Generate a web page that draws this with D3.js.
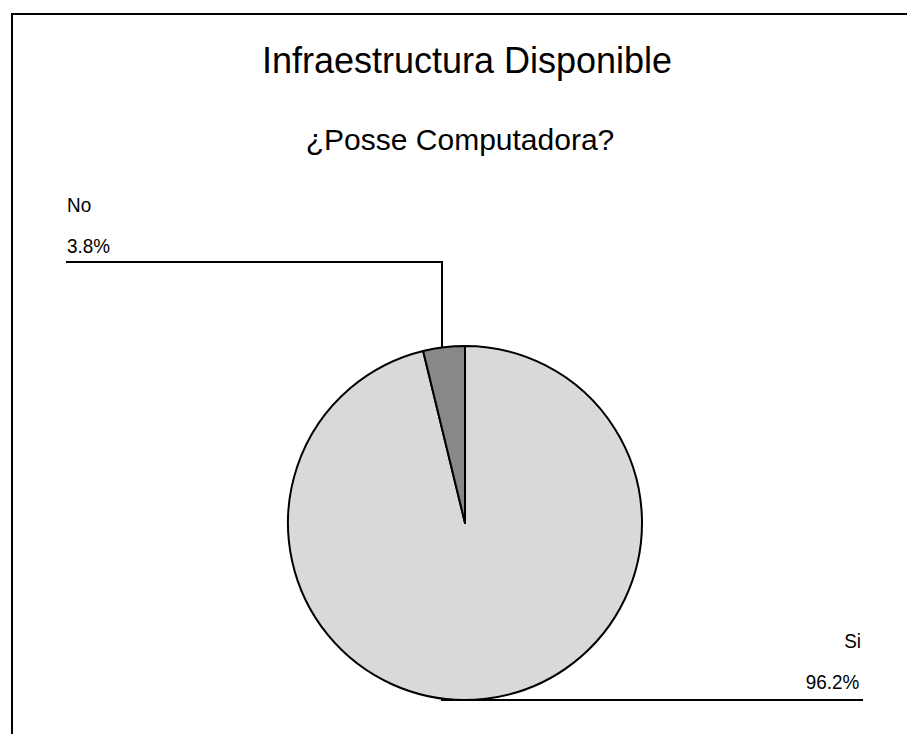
<!DOCTYPE html>
<html><head><meta charset="utf-8">
<script src="https://cdn.jsdelivr.net/npm/d3@7"></script>
<style>body{margin:0;background:#fff}svg{display:block}text{font-family:"Liberation Sans",Arial,sans-serif;fill:#000}</style>
</head><body><svg id="c" width="907" height="734"></svg>
<script>
const title = "Infraestructura Disponible";
const subtitle = "¿Posse Computadora?";
const categories = ["Si", "No"];
const values = [96.2, 3.8];
const percentLabels = ["96.2%", "3.8%"];
const colors = ["#d9d9d9", "#888888"];

const svg = d3.select("#c");
svg.append("path").attr("d", "M12,740 V14 H910").attr("fill", "none").attr("stroke", "#000").attr("stroke-width", 2);

svg.append("text").attr("x", 467).attr("y", 73).attr("text-anchor", "middle").attr("font-size", 36).text(title);
svg.append("text").attr("x", 460).attr("y", 150).attr("text-anchor", "middle").attr("font-size", 30).text(subtitle);

const cx = 465, cy = 523, r = 177;
const data = categories.map((c, i) => ({cat: c, val: values[i], pct: percentLabels[i], color: colors[i]}));
const pie = d3.pie().value(d => d.val).sort(null);
const arcs = pie(data);
const arc = d3.arc().innerRadius(0).outerRadius(r);
const g = svg.append("g").attr("transform", `translate(${cx},${cy})`);
g.selectAll("path").data(arcs).join("path")
  .attr("d", arc).attr("fill", d => d.data.color)
  .attr("stroke", "#000").attr("stroke-width", 2).attr("stroke-linejoin", "round");

// leader lines and labels
const leaders = {
  "No": {pts: [[442, 347], [442, 262], [66, 262]], x: 67, anchor: "start", dyCat: -50, dyPct: -9},
  "Si": {pts: [[441, 700], [863, 700]], x: 861, anchor: "end", dyCat: -52, dyPct: -11}
};
const sx = 0.9;
arcs.forEach(a => {
  const L = leaders[a.data.cat];
  svg.append("path").attr("d", d3.line()(L.pts)).attr("fill", "none").attr("stroke", "#000").attr("stroke-width", 2);
  const baseY = L.pts[L.pts.length - 1][1];
  const lg = svg.append("g").attr("transform", `translate(${L.x},${baseY}) scale(${sx},1)`);
  lg.append("text").attr("x", 0).attr("y", L.dyCat).attr("text-anchor", L.anchor).attr("font-size", 21).text(a.data.cat);
  lg.append("text").attr("x", L.anchor === "end" ? -2 : 0).attr("y", L.dyPct).attr("text-anchor", L.anchor).attr("font-size", 21).text(a.data.pct);
});
</script></body></html>
